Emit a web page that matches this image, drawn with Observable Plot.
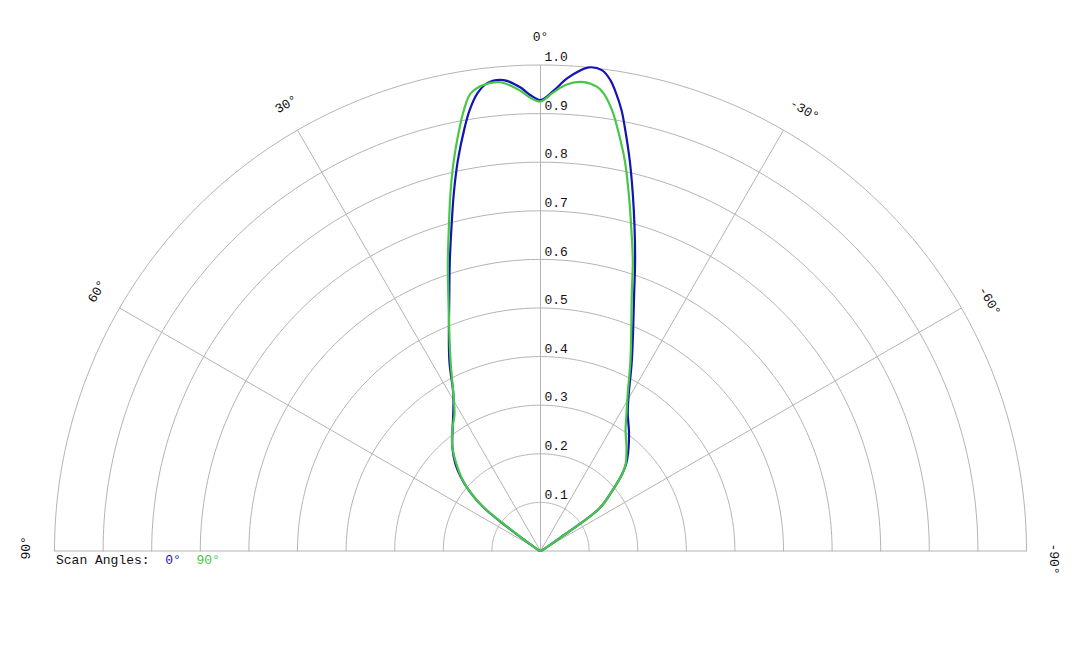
<!DOCTYPE html>
<html><head><meta charset="utf-8">
<script src="https://cdn.jsdelivr.net/npm/d3@7"></script>
<script src="https://cdn.jsdelivr.net/npm/@observablehq/plot@0.6"></script>
<style>
body{margin:0;background:#fff;}
#wrap{position:relative;width:1080px;height:648px;}
#legend{position:absolute;left:56px;top:554px;font:13px "Liberation Mono","Courier New",monospace;line-height:13px;white-space:pre;color:#111;}
</style></head><body><div id="wrap"><div id="legend"></div></div>
<script>
// Scan angle 0° (blue): angle in degrees (positive = left), normalized value
const blueAngles = [90, 75, 60, 55, 53.8, 52.6, 50, 47, 44.3, 40.5, 36.3, 32.4, 29.0, 25.6, 19.5, 17.34, 15.37, 13.63, 11.96, 10.13, 9.16, 7.88, 6.5, 4.5, 2.5, 1.26, 0,
  -1.6, -3.3, -5.7, -7.32, -8.46, -9.4, -10.42, -11.25, -12.88, -14.49, -16.19, -18.11, -19.95, -25.6, -29.3, -32.4, -36.5, -40.5, -44.3, -46.6, -50, -54, -55.5, -56, -60, -75, -90];
const blueValues = [0, 0.002, 0.01, 0.05, 0.1, 0.148, 0.19, 0.225, 0.251, 0.279, 0.306, 0.335, 0.370, 0.434, 0.562, 0.626, 0.691, 0.757, 0.821, 0.886, 0.918, 0.950, 0.969, 0.972, 0.955, 0.938, 0.928,
  0.947, 0.975, 1.0, 0.997, 0.979, 0.954, 0.922, 0.889, 0.824, 0.759, 0.694, 0.626, 0.565, 0.435, 0.371, 0.335, 0.306, 0.279, 0.253, 0.232, 0.193, 0.152, 0.1, 0.05, 0.01, 0.002, 0];
// Scan angle 90° (green)
const greenAngles = [90, 75, 60, 55, 53.6, 52.6, 50.5, 47.5, 44, 40.5, 36.3, 32.1, 29, 25.3, 19.7, 17.7, 15.81, 14.13, 12.52, 10.78, 9.88, 8.7, 7, 4.9, 2.5, 1.3, 0,
  -1.6, -3.3, -5.25, -6.97, -7.88, -9.25, -10.26, -12.18, -13.88, -15.65, -17.63, -19.5, -25.3, -29, -32.1, -35.3, -39.9, -44.3, -46.6, -50, -54, -55.5, -56, -60, -75, -90];
const greenValues = [0, 0.002, 0.01, 0.05, 0.1, 0.148, 0.182, 0.218, 0.249, 0.279, 0.307, 0.333, 0.370, 0.433, 0.563, 0.627, 0.692, 0.759, 0.823, 0.888, 0.920, 0.952, 0.966, 0.968, 0.948, 0.933, 0.925,
  0.944, 0.962, 0.969, 0.962, 0.950, 0.918, 0.886, 0.822, 0.757, 0.692, 0.627, 0.563, 0.433, 0.370, 0.333, 0.303, 0.276, 0.251, 0.232, 0.193, 0.152, 0.1, 0.05, 0.01, 0.002, 0];

const ringValues = [0.1, 0.2, 0.3, 0.4, 0.5, 0.6, 0.7, 0.8, 0.9, 1.0];
const spokeAngles = [90, 60, 30, 0, -30, -60, -90];
const seriesNames = ["0°", "90°"];
const seriesColors = ["#1414b4", "#46c846"];

const W = 1080, H = 648, CX = 540, CY = 550.5, R = 486;
const rad = a => a * Math.PI / 180;
const px = (a, r) => -r * Math.sin(rad(a));
const py = (a, r) => r * Math.cos(rad(a));
// small clockwise nudge of angle labels, as in the reference
const labelAngle = a => a > 0 ? a - 0.35 : a < 0 ? a - 0.9 : a;

const curves = [
  ...blueAngles.map((a, i) => ({s: seriesNames[0], a, r: blueValues[i]})),
  ...greenAngles.map((a, i) => ({s: seriesNames[1], a, r: greenValues[i]}))
];
const ringPts = ringValues.flatMap(r => d3.range(-90, 90.001, 1).map(a => ({ring: r, a, r})));
const grid = "#b4b4b4";
const font = `"Liberation Mono","Courier New",monospace`;

const chart = Plot.plot({
  width: W, height: H,
  margin: 0,
  style: {fontFamily: font, fontSize: "13px", background: "#fff"},
  x: {domain: [-CX / R, (W - CX) / R], range: [0, W], axis: null},
  y: {domain: [-(H - CY) / R, CY / R], range: [H, 0], axis: null},
  color: {domain: seriesNames, range: seriesColors},
  marks: [
    Plot.line(ringPts, {x: d => px(d.a, d.r), y: d => py(d.a, d.r), z: "ring", stroke: grid, strokeWidth: 1}),
    Plot.link(spokeAngles, {x1: 0, y1: 0, x2: a => px(a, 1), y2: a => py(a, 1), stroke: grid, strokeWidth: 1}),
    Plot.text(ringValues, {x: 0, y: r => r, text: r => r.toFixed(1), textAnchor: "start", lineAnchor: "middle", dx: 4, dy: -8, fill: "#111"}),
    Plot.text(spokeAngles, {x: a => px(labelAngle(a), 1.058), y: a => py(labelAngle(a), 1.058), text: a => `${a}°`, rotate: a => -a, textAnchor: "middle", lineAnchor: "middle", fill: "#111"}),
    Plot.line(curves, {x: d => px(d.a, d.r), y: d => py(d.a, d.r), z: "s", stroke: "s", strokeWidth: 2.2, curve: "catmull-rom"})
  ]
});
const wrap = document.getElementById("wrap");
wrap.insertBefore(chart, wrap.firstChild);

const legend = document.getElementById("legend");
legend.append("Scan Angles:  ");
seriesNames.forEach((n, i) => {
  const s = document.createElement("span");
  s.style.color = seriesColors[i];
  s.textContent = n;
  legend.append(s);
  if (i < seriesNames.length - 1) legend.append("  ");
});
</script>
</body></html>
